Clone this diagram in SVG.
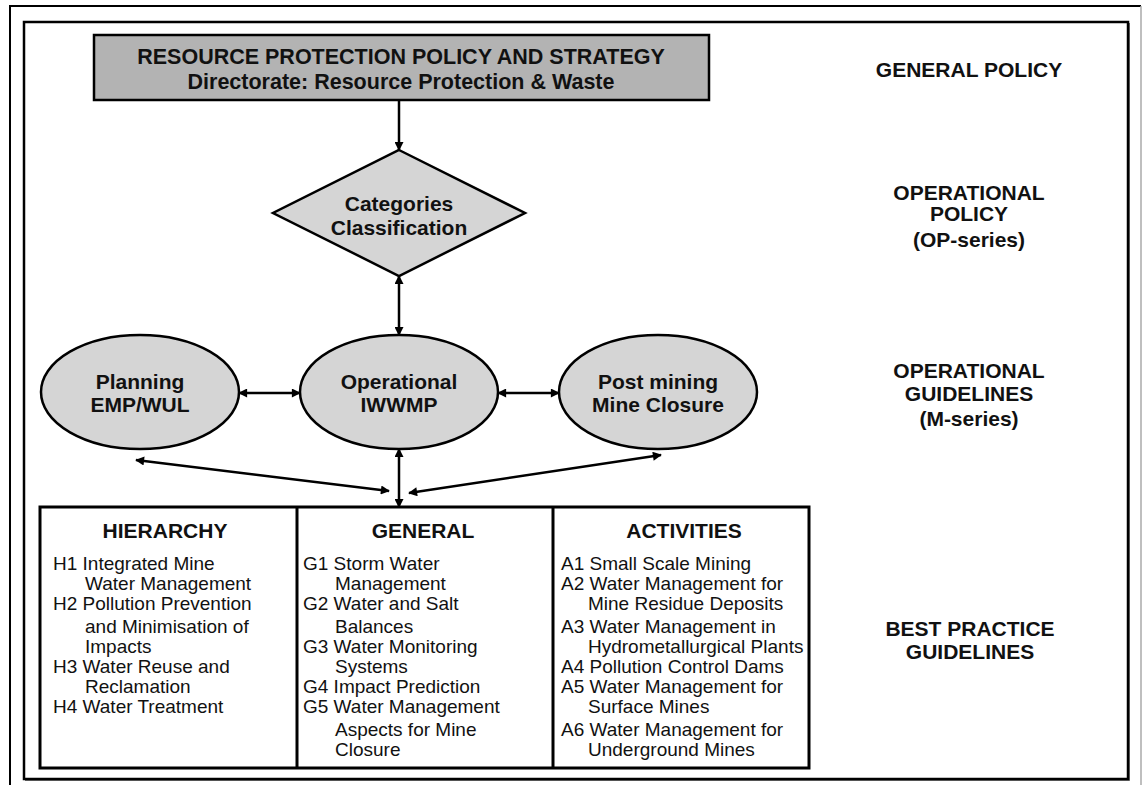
<svg xmlns="http://www.w3.org/2000/svg" width="1143" height="785" viewBox="0 0 1143 785">
  <defs>
    <style>
      .frame { fill: none; stroke: #000; stroke-width: 2.5; }
      .shape { stroke: #000; stroke-width: 2.5; }
      .box { fill: #b3b3b3; }
      .light { fill: #d5d5d5; }
      .cell { fill: #fff; stroke: #000; stroke-width: 3; }
      .rule { stroke: #000; stroke-width: 3; }
      .conn { fill: none; stroke: #000; stroke-width: 2.5; }
      text { font-family: "Liberation Sans", Arial, sans-serif; fill: #111; }
      .b { font-weight: bold; font-size: 21px; text-anchor: middle; }
      .title { font-size: 21.5px; }
      .item { font-size: 19px; }
    </style>
    <marker id="arr" viewBox="0 0 10 10" refX="9" refY="5" markerWidth="4.4" markerHeight="3.6" markerUnits="strokeWidth" orient="auto-start-reverse">
      <path d="M0,0 L10,5 L0,10 z" fill="#000"/>
    </marker>
  </defs>

  <rect width="1143" height="785" fill="#fff"/>

  <!-- outer border -->
  <path d="M10,785 V6 H1141" fill="none" stroke="#000" stroke-width="2"/>
  <line x1="1141" y1="6" x2="1141" y2="785" stroke="#aaa" stroke-width="1.5"/>
  <!-- inner border -->
  <rect x="24" y="22" width="1104" height="757" class="frame"/>
  <path d="M1129.5,23 V780.5 H25" fill="none" stroke="#555" stroke-width="1"/>

  <!-- connectors -->
  <g id="connectors">
    <line class="conn" x1="399" y1="100" x2="399" y2="150" marker-end="url(#arr)"/>
    <line class="conn" x1="399" y1="276" x2="399" y2="335" marker-start="url(#arr)" marker-end="url(#arr)"/>
    <line class="conn" x1="239" y1="393" x2="300" y2="393" marker-start="url(#arr)" marker-end="url(#arr)"/>
    <line class="conn" x1="498" y1="393" x2="559" y2="393" marker-start="url(#arr)" marker-end="url(#arr)"/>
    <line class="conn" x1="399" y1="449" x2="399" y2="507" marker-start="url(#arr)" marker-end="url(#arr)"/>
    <line class="conn" x1="136" y1="460" x2="389" y2="491" marker-start="url(#arr)" marker-end="url(#arr)"/>
    <line class="conn" x1="661" y1="455" x2="409" y2="493" marker-start="url(#arr)" marker-end="url(#arr)"/>
  </g>

  <g id="policy">
    <rect x="94" y="35" width="615" height="65" class="shape box"/>
    <text class="b title" x="401" y="64">RESOURCE PROTECTION POLICY AND STRATEGY</text>
    <text class="b title" x="401" y="88.5">Directorate: Resource Protection &amp; Waste</text>
  </g>

  <g id="categories">
    <polygon points="399,150 525,213 399,276 273,213" class="shape light"/>
    <text class="b" x="399" y="210.5">Categories</text>
    <text class="b" x="399" y="234.5">Classification</text>
  </g>

  <g id="planning">
    <ellipse cx="140" cy="392" rx="99" ry="57" class="shape light"/>
    <text class="b" x="140" y="388.5">Planning</text>
    <text class="b" x="140" y="412">EMP/WUL</text>
  </g>

  <g id="operational">
    <ellipse cx="399" cy="392" rx="99" ry="57" class="shape light"/>
    <text class="b" x="399" y="388.5">Operational</text>
    <text class="b" x="399" y="412">IWWMP</text>
  </g>

  <g id="postmining">
    <ellipse cx="658" cy="392" rx="99" ry="57" class="shape light"/>
    <text class="b" x="658" y="388.5">Post mining</text>
    <text class="b" x="658" y="412">Mine Closure</text>
  </g>

  <!-- level labels down the right-hand side -->
  <g id="levels">
    <text class="b" x="969" y="76.5">GENERAL POLICY</text>
    <text class="b" x="969" y="199.5">OPERATIONAL</text>
    <text class="b" x="969" y="221">POLICY</text>
    <text class="b" x="969" y="246.5">(OP-series)</text>
    <text class="b" x="969" y="377.5">OPERATIONAL</text>
    <text class="b" x="969" y="400.5">GUIDELINES</text>
    <text class="b" x="969" y="425.5">(M-series)</text>
    <text class="b" x="970" y="635.5">BEST PRACTICE</text>
    <text class="b" x="970" y="658.5">GUIDELINES</text>
  </g>

  <g id="guidelines">
    <rect x="40" y="507" width="769" height="261" class="cell"/>
    <line x1="297" y1="507" x2="297" y2="768" class="rule"/>
    <line x1="553" y1="507" x2="553" y2="768" class="rule"/>

    <text class="b" x="165" y="537.5">HIERARCHY</text>
    <text class="b" x="423" y="537.5">GENERAL</text>
    <text class="b" x="684" y="537.5">ACTIVITIES</text>

    <text class="item">
      <tspan x="53" y="569.5">H1 Integrated Mine</tspan>
      <tspan x="85" y="589.5">Water Management</tspan>
      <tspan x="53" y="609.5">H2 Pollution Prevention</tspan>
      <tspan x="85" y="632.5">and Minimisation of</tspan>
      <tspan x="85" y="652.5">Impacts</tspan>
      <tspan x="53" y="672.5">H3 Water Reuse and</tspan>
      <tspan x="85" y="692.5">Reclamation</tspan>
      <tspan x="53" y="712.5">H4 Water Treatment</tspan>
    </text>

    <text class="item">
      <tspan x="303" y="569.5">G1 Storm Water</tspan>
      <tspan x="335" y="589.5">Management</tspan>
      <tspan x="303" y="609.5">G2 Water and Salt</tspan>
      <tspan x="335" y="632.5">Balances</tspan>
      <tspan x="303" y="652.5">G3 Water Monitoring</tspan>
      <tspan x="335" y="672.5">Systems</tspan>
      <tspan x="303" y="692.5">G4 Impact Prediction</tspan>
      <tspan x="303" y="712.5">G5 Water Management</tspan>
      <tspan x="335" y="735.5">Aspects for Mine</tspan>
      <tspan x="335" y="755.5">Closure</tspan>
    </text>

    <text class="item">
      <tspan x="561" y="569.5">A1 Small Scale Mining</tspan>
      <tspan x="561" y="589.5">A2 Water Management for</tspan>
      <tspan x="588" y="609.5">Mine Residue Deposits</tspan>
      <tspan x="561" y="632.5">A3 Water Management in</tspan>
      <tspan x="588" y="652.5">Hydrometallurgical Plants</tspan>
      <tspan x="561" y="672.5">A4 Pollution Control Dams</tspan>
      <tspan x="561" y="692.5">A5 Water Management for</tspan>
      <tspan x="588" y="712.5">Surface Mines</tspan>
      <tspan x="561" y="735.5">A6 Water Management for</tspan>
      <tspan x="588" y="755.5">Underground Mines</tspan>
    </text>
  </g>
</svg>
